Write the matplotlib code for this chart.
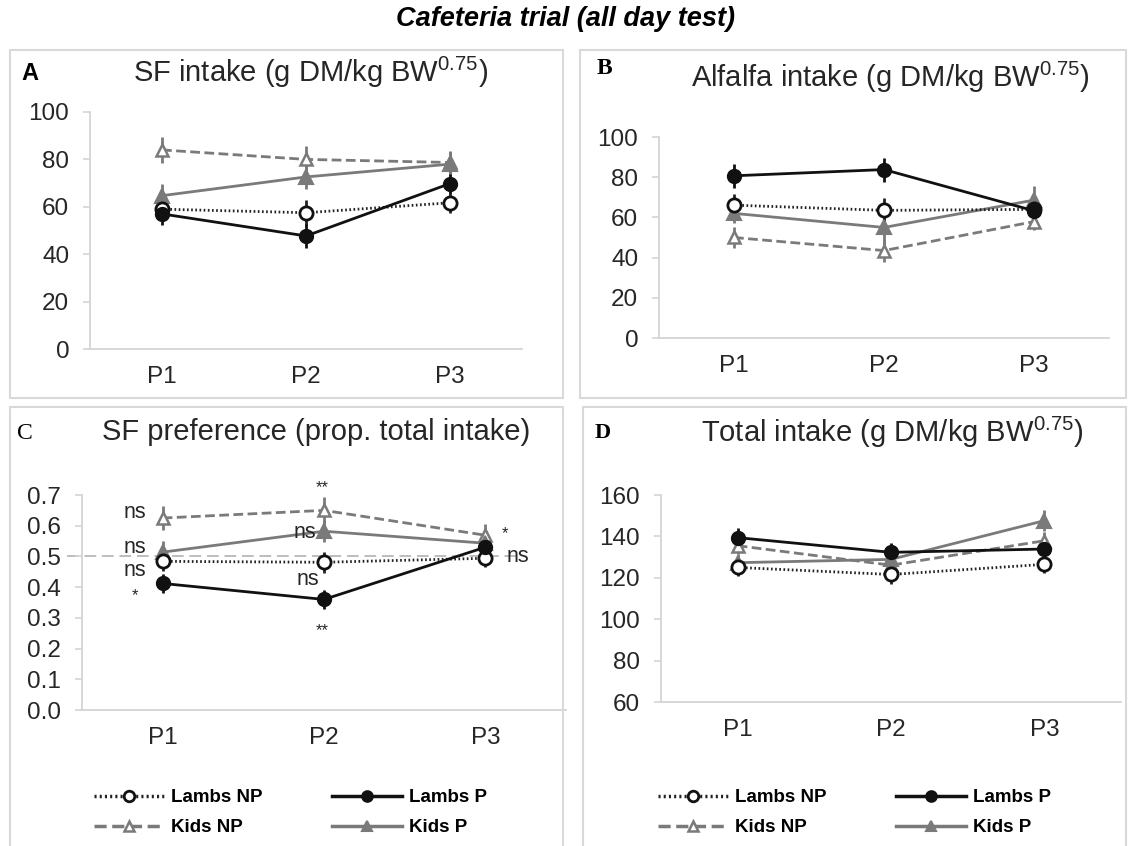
import matplotlib
matplotlib.use("Agg")
import matplotlib.pyplot as plt
from matplotlib.patches import Rectangle
from matplotlib.lines import Line2D
import numpy as np

plt.rcParams['font.family'] = ['Liberation Sans', 'DejaVu Sans']
plt.rcParams['mathtext.fontset'] = 'custom'
plt.rcParams['mathtext.rm'] = 'Liberation Sans'
plt.rcParams['mathtext.default'] = 'regular'

# ---------------- data ----------------
periods = ["P1", "P2", "P3"]
series_names = ["Lambs NP", "Lambs P", "Kids NP", "Kids P"]

# Panel A: SF intake
sf_lambs_np = [59, 57.5, 61.7]
sf_lambs_p = [57, 47.7, 69.8]
sf_kids_np = [84, 80, 78.7]
sf_kids_p = [64.7, 72.6, 78.0]
sf_err_lambs_np = [4, 5.5, 4.5]
sf_err_lambs_p = [4.5, 5, 4]
sf_err_kids_np = [5.5, 5.5, 5]
sf_err_kids_p = [5, 5, 5]

# Panel B: Alfalfa intake
alf_lambs_np = [66.1, 63.5, 64]
alf_lambs_p = [80.7, 83.8, 63.3]
alf_kids_np = [50, 43.5, 57.9]
alf_kids_p = [62, 55, 68.6]
alf_err_lambs_np = [5.5, 6, 4]
alf_err_lambs_p = [6, 6, 4]
alf_err_kids_np = [5, 5.5, 4]
alf_err_kids_p = [5, 8, 7]

# Panel C: SF preference
pref_lambs_np = [0.484, 0.481, 0.494]
pref_lambs_p = [0.412, 0.36, 0.53]
pref_kids_np = [0.625, 0.65, 0.569]
pref_kids_p = [0.514, 0.582, 0.543]
pref_err_lambs_np = [0.03, 0.035, 0.03]
pref_err_lambs_p = [0.03, 0.03, 0.03]
pref_err_kids_np = [0.04, 0.045, 0.035]
pref_err_kids_p = [0.035, 0.035, 0.03]
pref_reference = 0.5

# significance labels in panel C: (label, period index, label height)
sig_labels = ["ns", "ns", "ns", "*", "**", "ns", "ns", "**", "*", "ns"]
sig_period = [0, 0, 0, 0, 1, 1, 1, 1, 2, 2]
sig_height = [0.651, 0.537, 0.463, 0.373, 0.723, 0.585, 0.432, 0.258, 0.575, 0.507]
sig_dx = [-0.17, -0.17, -0.17, -0.17, -0.01, -0.12, -0.10, -0.01, 0.12, 0.20]

# Panel D: Total intake
tot_lambs_np = [125, 121.6, 126.5]
tot_lambs_p = [139.4, 132.3, 133.9]
tot_kids_np = [135.5, 126.1, 137.9]
tot_kids_p = [127.3, 128.9, 147.6]
tot_err_lambs_np = [4, 4.5, 4]
tot_err_lambs_p = [4.5, 4.5, 4]
tot_err_kids_np = [4, 4, 4]
tot_err_kids_p = [4, 4, 5]

# ---------------- styling ----------------
W, H = 1128, 846
fig = plt.figure(figsize=(W / 100, H / 100), dpi=100)

BLACK = '#111111'
GREY = '#7a7a7a'
styles = {
    "Lambs NP": dict(color='#222222', ls=(0, (0.6, 0.9)), marker='o', mfc='white', mec=BLACK, ms=9.5, mew=2),
    "Lambs P": dict(color=BLACK, ls='-', marker='o', mfc=BLACK, mec=BLACK, ms=9.5, mew=1.5),
    "Kids NP": dict(color=GREY, ls=(0, (3.5, 1.6)), marker='^', mfc='white', mec=GREY, ms=9, mew=1.8),
    "Kids P": dict(color=GREY, ls='-', marker='^', mfc=GREY, mec=GREY, ms=9.5, mew=1.5),
}
TXT = '#262626'
SPINE = '#d4d4d4'
TICK_FS = 17.5
TITLE_FS = 21


def px_axes(left, right, top, bottom):
    return fig.add_axes([left / W, 1 - bottom / H, (right - left) / W, (bottom - top) / H])


def style_axes(ax, ylim, yticks, fmt):
    ax.set_xlim(0.5, 3.5)
    ax.set_ylim(*ylim)
    ax.set_xticks([1, 2, 3])
    ax.set_xticklabels(periods)
    ax.set_yticks(yticks)
    ax.set_yticklabels([fmt.format(v) for v in yticks])
    for s in ['top', 'right']:
        ax.spines[s].set_visible(False)
    for s in ['left', 'bottom']:
        ax.spines[s].set_color(SPINE)
        ax.spines[s].set_linewidth(1.3)
    ax.tick_params(axis='x', length=0, pad=12, labelsize=TICK_FS, labelcolor=TXT)
    ax.tick_params(axis='y', length=5, width=1.2, color=SPINE, pad=10, labelsize=TICK_FS, labelcolor=TXT)
    ax.set_facecolor('none')


def draw_series(ax, vals, errs):
    x = np.arange(1, len(periods) + 1)
    order = ["Kids NP", "Kids P", "Lambs NP", "Lambs P"]
    for name in order:
        st = styles[name]
        ax.errorbar(x, vals[name], yerr=errs[name], color=st['color'], ls=st['ls'], lw=2,
                    marker=st['marker'], mfc=st['mfc'], mec=st['mec'], ms=st['ms'], mew=st['mew'],
                    elinewidth=2, ecolor=st['color'], capsize=0, clip_on=False, zorder=3)


# panel frames
for (l, r, t, b) in [(10, 563, 50, 398), (580, 1126, 50, 398), (10, 563, 407, 860), (583, 1126, 407, 860)]:
    fig.patches.append(Rectangle((l / W, 1 - b / H), (r - l) / W, (b - t) / H, transform=fig.transFigure,
                                 fill=False, edgecolor='#d9d9d9', lw=1.5, zorder=0))

fig.text(565 / W, 1 - 19 / H, "Cafeteria trial (all day test)", ha='center', va='center',
         fontsize=19.5, fontweight='bold', fontstyle='italic', color='black')

# Panel A
axA = px_axes(90, 522, 112, 349)
style_axes(axA, (0, 100), [0, 20, 40, 60, 80, 100], "{:.0f}")
draw_series(axA, {"Lambs NP": sf_lambs_np, "Lambs P": sf_lambs_p, "Kids NP": sf_kids_np, "Kids P": sf_kids_p},
            {"Lambs NP": sf_err_lambs_np, "Lambs P": sf_err_lambs_p, "Kids NP": sf_err_kids_np, "Kids P": sf_err_kids_p})
fig.text(311 / W, 1 - 72 / H, r"SF intake (g DM/kg BW$^{0.75}$)", ha='center', va='center', fontsize=TITLE_FS, color=TXT)
fig.text(30 / W, 1 - 73 / H, "A", ha='center', va='center', fontsize=17, fontweight='bold', color='black')

# Panel B
axB = px_axes(659, 1109, 137, 338)
style_axes(axB, (0, 100), [0, 20, 40, 60, 80, 100], "{:.0f}")
draw_series(axB, {"Lambs NP": alf_lambs_np, "Lambs P": alf_lambs_p, "Kids NP": alf_kids_np, "Kids P": alf_kids_p},
            {"Lambs NP": alf_err_lambs_np, "Lambs P": alf_err_lambs_p, "Kids NP": alf_err_kids_np, "Kids P": alf_err_kids_p})
fig.text(890 / W, 1 - 77 / H, r"Alfalfa intake (g DM/kg BW$^{0.75}$)", ha='center', va='center', fontsize=TITLE_FS, color=TXT)
fig.text(604 / W, 1 - 68 / H, "B", ha='center', va='center', fontsize=17, fontweight='bold',
         family=['Liberation Serif'], color='black')

# Panel C
axC = px_axes(82, 566, 495, 710)
style_axes(axC, (0, 0.7), [0, 0.1, 0.2, 0.3, 0.4, 0.5, 0.6, 0.7], "{:.1f}")
axC.axhline(pref_reference, xmin=-0.03, xmax=0.91, color='#bdbdbd', lw=1.4, ls=(0, (6, 3)), zorder=1, clip_on=False)
draw_series(axC, {"Lambs NP": pref_lambs_np, "Lambs P": pref_lambs_p, "Kids NP": pref_kids_np, "Kids P": pref_kids_p},
            {"Lambs NP": pref_err_lambs_np, "Lambs P": pref_err_lambs_p, "Kids NP": pref_err_kids_np, "Kids P": pref_err_kids_p})
for lab, pi, hy, dx in zip(sig_labels, sig_period, sig_height, sig_dx):
    fs = 15.5 if lab == "ns" else 12
    axC.text(pi + 1 + dx, hy, lab, ha='center', va='center_baseline' if lab == "ns" else 'center',
             fontsize=fs, color=TXT, zorder=5)
fig.text(316 / W, 1 - 432 / H, "SF preference (prop. total intake)", ha='center', va='center', fontsize=TITLE_FS, color=TXT)
fig.text(25 / W, 1 - 433 / H, "C", ha='center', va='center', fontsize=17,
         family=['Liberation Serif'], color='black')

# Panel D
axD = px_axes(661, 1121, 495, 702)
style_axes(axD, (60, 160), [60, 80, 100, 120, 140, 160], "{:.0f}")
draw_series(axD, {"Lambs NP": tot_lambs_np, "Lambs P": tot_lambs_p, "Kids NP": tot_kids_np, "Kids P": tot_kids_p},
            {"Lambs NP": tot_err_lambs_np, "Lambs P": tot_err_lambs_p, "Kids NP": tot_err_kids_np, "Kids P": tot_err_kids_p})
fig.text(892 / W, 1 - 432 / H, r"Total intake (g DM/kg BW$^{0.75}$)", ha='center', va='center', fontsize=TITLE_FS, color=TXT)
fig.text(603 / W, 1 - 433 / H, "D", ha='center', va='center', fontsize=16, fontweight='bold',
         family=['Liberation Serif'], color='black')

# legends
leg_order = ["Lambs NP", "Kids NP", "Lambs P", "Kids P"]
handles = []
for name in leg_order:
    st = styles[name]
    handles.append(Line2D([], [], color=st['color'], ls=st['ls'], lw=2.5, marker=st['marker'],
                          mfc=st['mfc'], mec=st['mec'], ms=st['ms'] * 0.8, mew=st['mew']))
for x0 in (94, 658):
    fig.legend(handles, leg_order, loc='upper left', bbox_to_anchor=(x0 / W, 1 - 789 / H), ncol=2,
               frameon=False, borderpad=0, borderaxespad=0, handlelength=3.75, handletextpad=0.35,
               columnspacing=3.7, labelspacing=0.7, numpoints=1,
               prop={'family': 'Liberation Sans', 'weight': 'bold', 'size': 13.5})

fig.savefig("out.png", dpi=100, facecolor='white')
